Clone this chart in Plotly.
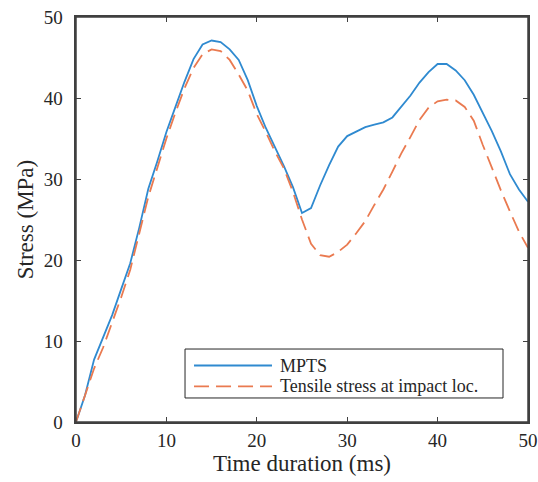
import plotly.graph_objects as go

time_ms = list(range(0, 51))

mpts = [0, 3.3, 7.7, 10.4, 13.2, 16.4, 19.6, 24.0, 28.8, 32.2,
        35.8, 38.9, 42.0, 44.8, 46.6, 47.1, 46.9, 46.0, 44.7, 42.2,
        39.0, 36.3, 34.0, 31.6, 29.0, 25.8, 26.4, 29.2, 31.7, 34.0,
        35.3, 35.9, 36.4, 36.7, 37.0, 37.6, 38.9, 40.3, 41.9, 43.2,
        44.2, 44.2, 43.4, 42.2, 40.4, 38.2, 35.9, 33.4, 30.6, 28.7,
        27.2]

tensile = [0, 3.4, 6.6, 9.2, 12.3, 15.4, 18.8, 23.2, 27.8, 31.4,
           35.0, 38.2, 41.2, 43.7, 45.4, 46.0, 45.8, 44.7, 42.9, 40.9,
           38.0, 35.8, 33.4, 31.3, 28.4, 25.0, 22.0, 20.6, 20.4, 21.0,
           21.9, 23.3, 24.8, 26.8, 28.7, 30.9, 33.2, 35.2, 37.3, 38.8,
           39.6, 39.8, 39.7, 38.9, 37.2, 34.2, 31.3, 28.6, 26.0, 23.5,
           21.5]

series_names = ["MPTS", "Tensile stress at impact loc."]
series_colors = ["#2f8ad0", "#ea7a50"]
dash_pattern = "15px,7px"
x_ticks = [0, 10, 20, 30, 40, 50]
y_ticks = [0, 10, 20, 30, 40, 50]
y_ticktext = [f"{v}\u2009\u2009" for v in y_ticks]

font_family = "Liberation Serif"
axis_color = "#404040"
text_color = "#262626"

fig = go.Figure()
fig.add_trace(go.Scatter(x=time_ms, y=mpts, mode="lines", name=series_names[0],
                         line=dict(color=series_colors[0], width=1.8),
                         showlegend=False))
fig.add_trace(go.Scatter(x=time_ms, y=tensile, mode="lines", name=series_names[1],
                         line=dict(color=series_colors[1], width=1.8, dash=dash_pattern),
                         showlegend=False))

axis_common = dict(
    showgrid=False, zeroline=False, showline=True, mirror="allticks",
    linecolor=axis_color, linewidth=1.5, ticks="inside", ticklen=5,
    tickcolor=axis_color, tickwidth=1, automargin=False,
    tickfont=dict(family=font_family, size=19, color=text_color),
)

leg_x0, leg_x1 = 0.2412, 0.9447
leg_y0, leg_y1 = 0.0593, 0.1802
row_y = [0.1395, 0.0880]
sample_x0, sample_x1 = 0.2611, 0.4336
text_x = 0.4470

shapes = [
    # full plot-area frame (box)
    dict(type="rect", xref="paper", yref="paper", x0=0, x1=1, y0=0, y1=1,
         line=dict(color=axis_color, width=1.5), fillcolor="rgba(0,0,0,0)",
         layer="above"),
    # legend box
    dict(type="rect", xref="paper", yref="paper",
         x0=leg_x0, x1=leg_x1, y0=leg_y0, y1=leg_y1,
         line=dict(color=text_color, width=1), fillcolor="white", layer="above"),
]
annotations = []
for i, name in enumerate(series_names):
    shapes.append(dict(type="line", xref="paper", yref="paper",
                       x0=sample_x0, x1=sample_x1, y0=row_y[i], y1=row_y[i],
                       line=dict(color=series_colors[i], width=1.8,
                                 dash=None if i == 0 else dash_pattern),
                       layer="above"))
    annotations.append(dict(xref="paper", yref="paper", x=text_x, y=row_y[i],
                            xanchor="left", yanchor="middle", showarrow=False,
                            text=name,
                            font=dict(family=font_family, size=18, color=text_color)))

fig.update_layout(
    width=538, height=482,
    margin=dict(l=76, r=10, t=17, b=60),
    paper_bgcolor="white", plot_bgcolor="white",
    font=dict(family=font_family, color=text_color),
    xaxis=dict(range=[0, 50], tickvals=x_ticks,
               title=dict(text="Time duration (ms)", font=dict(size=23), standoff=2),
               **axis_common),
    yaxis=dict(range=[0, 50], tickvals=y_ticks, ticktext=y_ticktext,
               title=dict(text="Stress (MPa)", font=dict(size=23), standoff=4),
               **axis_common),
    shapes=shapes,
    annotations=annotations,
    showlegend=False,
)

fig.write_html("out.html",
               config={"displayModeBar": False},
               post_script="document.body.style.margin='0px';"
                           "document.body.style.overflow='hidden';")
